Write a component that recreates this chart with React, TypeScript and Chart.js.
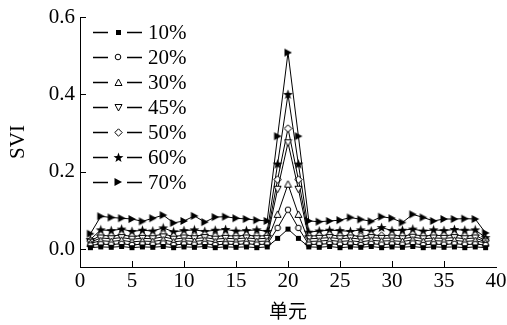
import React, { useEffect, useRef } from 'react';
import { Chart, registerables } from 'chart.js';

Chart.register(...registerables);

const units = [1, 2, 3, 4, 5, 6, 7, 8, 9, 10, 11, 12, 13, 14, 15, 16, 17, 18, 19, 20, 21, 22, 23, 24, 25, 26, 27, 28, 29, 30, 31, 32, 33, 34, 35, 36, 37, 38, 39];

const seriesLabels = ['10%', '20%', '30%', '45%', '50%', '60%', '70%'];

const s10 = [0.004, 0.006, 0.005, 0.007, 0.004, 0.006, 0.005, 0.007, 0.004, 0.006, 0.005, 0.007, 0.004, 0.006, 0.005, 0.006, 0.004, 0.006, 0.028, 0.052, 0.028, 0.006, 0.005, 0.007, 0.004, 0.006, 0.005, 0.007, 0.004, 0.006, 0.005, 0.007, 0.004, 0.006, 0.005, 0.006, 0.004, 0.006, 0.004];
const s20 = [0.010, 0.013, 0.012, 0.014, 0.011, 0.013, 0.012, 0.015, 0.011, 0.013, 0.012, 0.014, 0.011, 0.013, 0.012, 0.014, 0.012, 0.013, 0.055, 0.102, 0.055, 0.012, 0.013, 0.014, 0.012, 0.013, 0.011, 0.014, 0.012, 0.013, 0.012, 0.015, 0.011, 0.013, 0.012, 0.014, 0.012, 0.013, 0.011];
const s30 = [0.015, 0.022, 0.020, 0.023, 0.019, 0.021, 0.020, 0.024, 0.019, 0.022, 0.020, 0.023, 0.019, 0.021, 0.020, 0.022, 0.020, 0.021, 0.090, 0.168, 0.090, 0.020, 0.021, 0.023, 0.020, 0.022, 0.019, 0.023, 0.021, 0.022, 0.020, 0.024, 0.020, 0.022, 0.021, 0.023, 0.020, 0.022, 0.016];
const s45 = [0.018, 0.029, 0.027, 0.030, 0.026, 0.028, 0.027, 0.032, 0.026, 0.029, 0.027, 0.030, 0.026, 0.028, 0.027, 0.029, 0.027, 0.028, 0.155, 0.275, 0.155, 0.027, 0.028, 0.030, 0.027, 0.029, 0.026, 0.030, 0.028, 0.029, 0.027, 0.031, 0.027, 0.029, 0.028, 0.030, 0.027, 0.029, 0.019];
const s50 = [0.021, 0.036, 0.034, 0.037, 0.033, 0.035, 0.034, 0.039, 0.033, 0.036, 0.034, 0.037, 0.033, 0.035, 0.034, 0.036, 0.034, 0.035, 0.180, 0.312, 0.180, 0.034, 0.035, 0.037, 0.034, 0.036, 0.033, 0.037, 0.035, 0.036, 0.034, 0.038, 0.034, 0.036, 0.035, 0.037, 0.034, 0.036, 0.022];
const s60 = [0.025, 0.050, 0.048, 0.052, 0.046, 0.049, 0.047, 0.055, 0.045, 0.048, 0.050, 0.046, 0.049, 0.051, 0.047, 0.048, 0.050, 0.046, 0.220, 0.400, 0.220, 0.044, 0.047, 0.049, 0.048, 0.046, 0.050, 0.047, 0.056, 0.048, 0.049, 0.052, 0.047, 0.050, 0.048, 0.051, 0.049, 0.050, 0.030];
const s70 = [0.040, 0.085, 0.082, 0.080, 0.078, 0.072, 0.080, 0.088, 0.068, 0.073, 0.086, 0.070, 0.083, 0.084, 0.080, 0.078, 0.075, 0.073, 0.292, 0.508, 0.292, 0.073, 0.071, 0.073, 0.075, 0.082, 0.077, 0.072, 0.084, 0.080, 0.069, 0.090, 0.082, 0.073, 0.078, 0.078, 0.079, 0.078, 0.042];

const seriesValues = [s10, s20, s30, s45, s50, s60, s70];
const markerKinds = ['square', 'circle', 'triangle', 'triangleDown', 'diamond', 'star', 'triangleRight'];

const xTicks = [0, 5, 10, 15, 20, 25, 30, 35, 40];
const yTicks = [0, 0.2, 0.4, 0.6];

const SERIF = '"Liberation Serif", "Times New Roman", serif';

function makeMarker(kind: string): HTMLCanvasElement {
  const c = document.createElement('canvas');
  const size = kind === 'square' ? 7 : kind === 'circle' ? 8 : kind === 'star' ? 11 : kind === 'triangleRight' ? 10 : 9;
  c.width = size;
  c.height = size;
  const g = c.getContext('2d')!;
  g.strokeStyle = '#000';
  g.lineWidth = 1;
  g.fillStyle = '#fff';
  g.beginPath();
  if (kind === 'square') {
    g.fillStyle = '#000';
    g.fillRect(1, 1, 5, 5);
    return c;
  } else if (kind === 'circle') {
    g.arc(4, 4, 2.8, 0, Math.PI * 2);
    g.fill();
    g.stroke();
  } else if (kind === 'triangle') {
    g.moveTo(4.5, 1);
    g.lineTo(8, 7.5);
    g.lineTo(1, 7.5);
    g.closePath();
    g.fill();
    g.stroke();
  } else if (kind === 'triangleDown') {
    g.moveTo(1, 1.5);
    g.lineTo(8, 1.5);
    g.lineTo(4.5, 8);
    g.closePath();
    g.fill();
    g.stroke();
  } else if (kind === 'diamond') {
    g.moveTo(4.5, 0.8);
    g.lineTo(8.2, 4.5);
    g.lineTo(4.5, 8.2);
    g.lineTo(0.8, 4.5);
    g.closePath();
    g.fill();
    g.stroke();
  } else if (kind === 'star') {
    g.fillStyle = '#000';
    for (let i = 0; i < 10; i++) {
      const r = i % 2 === 0 ? 5.2 : 2.1;
      const a = -Math.PI / 2 + (i * Math.PI) / 5;
      const px = 5.5 + r * Math.cos(a);
      const py = 5.8 + r * Math.sin(a);
      if (i === 0) g.moveTo(px, py);
      else g.lineTo(px, py);
    }
    g.closePath();
    g.fill();
  } else if (kind === 'triangleRight') {
    g.fillStyle = '#000';
    g.moveTo(1.5, 1);
    g.lineTo(9, 5);
    g.lineTo(1.5, 9);
    g.closePath();
    g.fill();
  }
  return c;
}

export default function App() {
  const ref = useRef<HTMLCanvasElement | null>(null);

  useEffect(() => {
    document.body.style.margin = '0';
    const canvas = ref.current;
    if (!canvas) return;
    const markers = markerKinds.map((k) => makeMarker(k));

    const overlay = {
      id: 'overlay',
      afterDraw(chart: any) {
        const ctx = chart.ctx as CanvasRenderingContext2D;
        const xs = chart.scales.x;
        const ys = chart.scales.y;
        ctx.save();
        ctx.strokeStyle = '#000';
        ctx.lineWidth = 1;
        ctx.beginPath();
        for (const v of xTicks) {
          if (v <= xs.min || v >= xs.max) continue;
          const px = Math.round(xs.getPixelForValue(v)) + 0.5;
          ctx.moveTo(px, ys.bottom);
          ctx.lineTo(px, ys.bottom - 6);
        }
        for (const v of yTicks) {
          const py = Math.round(ys.getPixelForValue(v)) + 0.5;
          ctx.moveTo(xs.left, py);
          ctx.lineTo(xs.left + 6, py);
        }
        ctx.stroke();

        // legend
        const lx0 = 93;
        const lx1 = 142;
        const mx = 118;
        const top = 32;
        const step = 25;
        ctx.lineWidth = 1.3;
        ctx.font = `21px ${SERIF}`;
        ctx.fillStyle = '#000';
        ctx.textAlign = 'left';
        ctx.textBaseline = 'middle';
        seriesLabels.forEach((lab, i) => {
          const y = top + i * step;
          ctx.beginPath();
          ctx.moveTo(lx0, y + 0.5);
          ctx.lineTo(mx - 10, y + 0.5);
          ctx.moveTo(mx + 9, y + 0.5);
          ctx.lineTo(lx1, y + 0.5);
          ctx.stroke();
          const m = markers[i];
          ctx.drawImage(m, Math.round(mx - m.width / 2), Math.round(y - m.height / 2));
          ctx.fillText(lab, 148, y + 1);
        });
        ctx.restore();
      },
    };

    const chart = new Chart(canvas, {
      type: 'line',
      data: {
        datasets: seriesValues.map((vals, i) => ({
          label: seriesLabels[i],
          data: units.map((u, j) => ({ x: u, y: vals[j] })),
          borderColor: '#000',
          borderWidth: 1,
          backgroundColor: '#000',
          pointStyle: markers[i] as any,
          pointRadius: 4,
          pointHoverRadius: 4,
          tension: 0,
          fill: false,
        })),
      },
      options: {
        animation: false,
        responsive: false,
        devicePixelRatio: 1,
        events: [],
        layout: { padding: { top: 17, right: 11, bottom: 0, left: 0 } },
        plugins: {
          legend: { display: false },
          tooltip: { enabled: false },
        },
        scales: {
          x: {
            type: 'linear',
            min: 0,
            max: 40,
            afterBuildTicks: (s: any) => {
              s.ticks = xTicks.map((v) => ({ value: v }));
            },
            afterFit: (s: any) => {
              s.height = 58;
              s.paddingLeft = 0;
              s.paddingRight = 0;
            },
            ticks: {
              color: '#000',
              font: { family: SERIF, size: 21 },
              padding: 2,
              maxRotation: 0,
              autoSkip: false,
              callback: (v: any) => String(v),
            },
            grid: { display: true, drawOnChartArea: false, drawTicks: false },
            border: { display: true, color: '#000', width: 1 },
            title: {
              display: true,
              text: '单元',
              color: '#000',
              font: { family: '"Noto Sans CJK SC", sans-serif', size: 19 },
              padding: { top: 0, bottom: 3 },
            },
          },
          y: {
            type: 'linear',
            min: -0.046,
            max: 0.6,
            afterBuildTicks: (s: any) => {
              s.ticks = yTicks.map((v) => ({ value: v }));
            },
            afterFit: (s: any) => {
              s.width = 80;
              s.paddingTop = 0;
              s.paddingBottom = 0;
            },
            ticks: {
              color: '#000',
              font: { family: SERIF, size: 21 },
              padding: 5,
              autoSkip: false,
              callback: (v: any) => Number(v).toFixed(1),
            },
            grid: { display: true, drawOnChartArea: false, drawTicks: false },
            border: { display: true, color: '#000', width: 1 },
            title: {
              display: true,
              text: 'SVI',
              color: '#000',
              font: { family: SERIF, size: 21 },
              padding: { top: 6, bottom: 0 },
            },
          },
        },
      },
      plugins: [overlay],
    } as any);

    return () => {
      chart.destroy();
    };
  }, []);

  return (
    <div style={{ width: 507, height: 325 }}>
      <canvas ref={ref} width={507} height={325} style={{ display: 'block', width: 507, height: 325 }} />
    </div>
  );
}
